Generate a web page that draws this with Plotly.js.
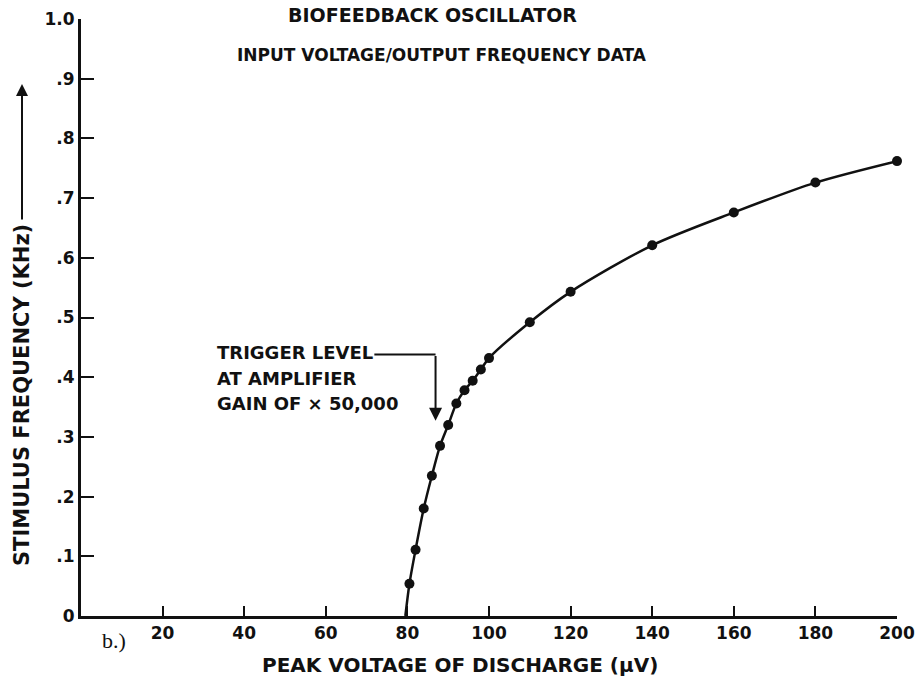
<!DOCTYPE html>
<html>
<head>
<meta charset="utf-8">
<script src="https://cdn.plot.ly/plotly-3.0.1.min.js"></script>
<style>
  html, body { margin: 0; padding: 0; background: #ffffff; }
  #chart { width: 915px; height: 681px; }
</style>
</head>
<body>
<div id="chart"></div>
<script>
// Peak voltage of discharge (µV) and resulting stimulus frequency (kHz)
const voltage   = [80.5, 82, 84, 86, 88, 90, 92, 94, 96, 98, 100, 110, 120, 140, 160, 180, 200];
const frequency = [0.054, 0.111, 0.180, 0.235, 0.285, 0.320, 0.356, 0.378, 0.394, 0.413, 0.432,
                   0.492, 0.543, 0.621, 0.676, 0.726, 0.762];

// Voltage at which the oscillator starts (curve meets the axis)
const onsetVoltage = 79.5;

// Trigger level marker at an amplifier gain of x50,000
const triggerVoltage = 86.9;

const xTickVals = [20, 40, 60, 80, 100, 120, 140, 160, 180, 200];
const xTickText = ['20', '40', '60', '80', '100', '120', '140', '160', '180', '200'];
const yTickVals = [0, 0.1, 0.2, 0.3, 0.4, 0.5, 0.6, 0.7, 0.8, 0.9, 1.0];
const yTickText = ['0', '.1', '.2', '.3', '.4', '.5', '.6', '.7', '.8', '.9', '1.0'];

const titleLines = ['BIOFEEDBACK OSCILLATOR', 'INPUT VOLTAGE/OUTPUT FREQUENCY DATA'];
const noteLines  = ['TRIGGER LEVEL', 'AT AMPLIFIER', 'GAIN OF × 50,000'];

const INK = '#111111';
const FONT = 'DejaVu Sans, Liberation Sans, Arial, sans-serif';

// plot area in page pixels, used to place the free text
const W = 915, H = 681;
const M = { l: 81, r: 18, t: 19, b: 65 };
const PW = W - M.l - M.r, PH = H - M.t - M.b;
const px = x => (x - M.l) / PW;
const py = y => (H - M.b - y) / PH;

const boldFont = size => ({ family: FONT, size: size, color: INK, weight: 'bold' });

const curve = {
  x: [onsetVoltage].concat(voltage),
  y: [0].concat(frequency),
  mode: 'lines',
  line: { color: INK, width: 2.5, shape: 'spline', smoothing: 0.8 },
  hoverinfo: 'skip',
  cliponaxis: false,
  showlegend: false
};

const points = {
  x: voltage,
  y: frequency,
  mode: 'markers',
  marker: { color: INK, size: 10 },
  cliponaxis: false,
  showlegend: false
};

const annotations = [];

// two-line heading
annotations.push({
  text: '<b>' + titleLines[0] + '</b>', xref: 'paper', yref: 'paper',
  x: px(432), y: py(15), xanchor: 'center', yanchor: 'middle',
  showarrow: false, font: boldFont(19)
});
annotations.push({
  text: '<b>' + titleLines[1] + '</b>', xref: 'paper', yref: 'paper',
  x: px(442), y: py(55), xanchor: 'center', yanchor: 'middle',
  showarrow: false, font: boldFont(17)
});

// trigger-level note, one line each
noteLines.forEach((t, i) => {
  annotations.push({
    text: '<b>' + t + '</b>', xref: 'paper', yref: 'paper',
    x: px(215), y: py(352 + i * 26),
    xanchor: 'left', yanchor: 'middle', showarrow: false, font: boldFont(18)
  });
});

// downward arrow to the trigger level on the curve
annotations.push({
  text: '', xref: 'x', yref: 'y', axref: 'x', ayref: 'y',
  x: triggerVoltage, y: 0.327, ax: triggerVoltage, ay: 0.438,
  showarrow: true, arrowhead: 2, arrowsize: 1.3, arrowwidth: 2, arrowcolor: INK
});

// y-axis title with its upward arrow
annotations.push({
  text: '<b>STIMULUS FREQUENCY (KHz)</b>', xref: 'paper', yref: 'paper',
  x: px(22), y: py(395), textangle: -90,
  xanchor: 'center', yanchor: 'middle', showarrow: false, font: boldFont(21)
});
annotations.push({
  text: '', xref: 'paper', yref: 'paper',
  x: px(22), y: py(84), ax: 0, ay: 137,
  showarrow: true, arrowhead: 2, arrowsize: 1.2, arrowwidth: 2, arrowcolor: INK
});

// x-axis title
annotations.push({
  text: '<b>PEAK VOLTAGE OF DISCHARGE (µV)</b>', xref: 'paper', yref: 'paper',
  x: px(460), y: py(665), xanchor: 'center', yanchor: 'middle',
  showarrow: false, font: boldFont(20)
});

// panel label
annotations.push({
  text: 'b.)', xref: 'paper', yref: 'paper',
  x: px(100), y: py(640), xanchor: 'left', yanchor: 'middle',
  showarrow: false, font: { family: 'Liberation Serif, DejaVu Serif, serif', size: 22, color: INK }
});

const shapes = [{
  type: 'line', xref: 'x', yref: 'y',
  x0: 71.9, y0: 0.438, x1: triggerVoltage, y1: 0.438,
  line: { color: INK, width: 2 }
}];

const axisBase = {
  showgrid: false, zeroline: false, showline: true,
  linecolor: INK, linewidth: 3,
  ticks: 'inside', tickcolor: INK, tickwidth: 2,
  tickfont: boldFont(17),
  tickmode: 'array', fixedrange: true
};

const layout = {
  width: W, height: H,
  margin: M,
  paper_bgcolor: '#ffffff', plot_bgcolor: '#ffffff',
  xaxis: Object.assign({}, axisBase, {
    range: [0, 200], tickvals: xTickVals, ticktext: xTickText, ticklen: 10
  }),
  yaxis: Object.assign({}, axisBase, {
    range: [0, 1], tickvals: yTickVals, ticktext: yTickText, ticklen: 13
  }),
  annotations: annotations,
  shapes: shapes,
  showlegend: false
};

Plotly.newPlot('chart', [curve, points], layout, { displayModeBar: false, staticPlot: true });
</script>
</body>
</html>
